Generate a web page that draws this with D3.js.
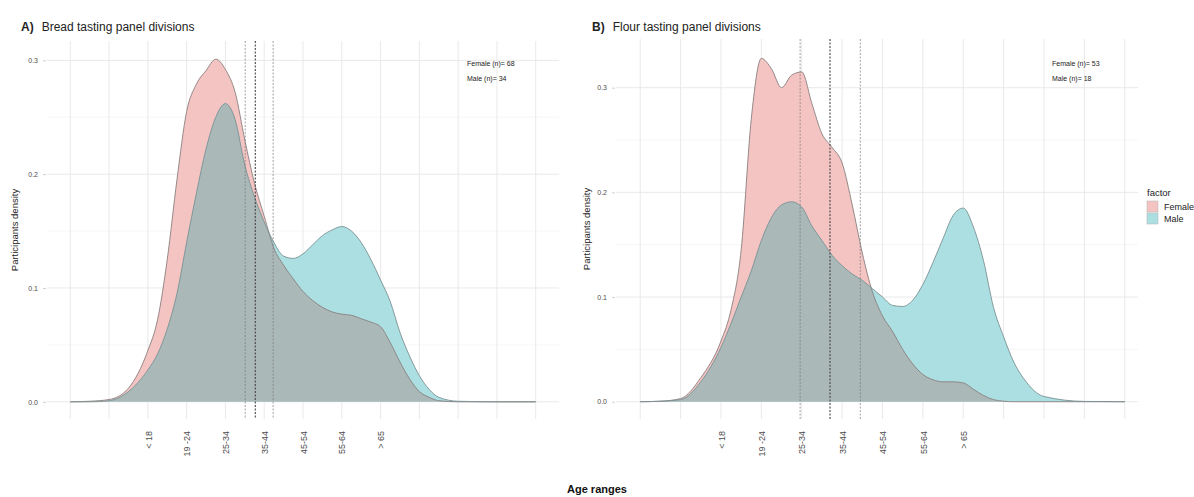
<!DOCTYPE html>
<html>
<head>
<meta charset="utf-8">
<script src="https://cdn.jsdelivr.net/npm/d3@7"></script>
<style>
  body { margin: 0; background: #fff; }
  text { font-family: "Liberation Sans", Arial, sans-serif; }
</style>
</head>
<body>
<div id="chart"></div>
<script>
// Variables
var svgW = 1194;
var svgH = 497;

// age axis (coded positions) and labels
var ageLabels = ["< 18", "19 -24", "25-34", "35-44", "45-54", "55-64", "> 65"];
var labelPos = [2, 3, 4, 5, 6, 7, 8];
var gridPos = [0, 1, 2, 3, 4, 5, 6, 7, 8, 9, 10, 11, 12];
var densityTicks = [0, 0.1, 0.2, 0.3];
var densityMinor = [0.05, 0.15, 0.25];

var ageGrid = [0, 0.5, 1, 1.5, 2, 2.25, 2.5, 2.75, 3, 3.25, 3.5, 3.75, 4, 4.25, 4.5, 4.75,
    5, 5.25, 5.5, 5.75, 6, 6.25, 6.5, 6.75, 7, 7.25, 7.5, 7.75, 8, 8.25, 8.5, 8.75,
    9, 9.25, 9.5, 10, 11, 12];

// bread panel densities
var breadFemale = [0, 0.0005, 0.002, 0.012, 0.045, 0.072, 0.125, 0.195, 0.255, 0.279, 0.291, 0.301, 0.292, 0.272, 0.230, 0.192,
    0.163, 0.135, 0.12, 0.108, 0.097, 0.089, 0.083, 0.079, 0.077, 0.076, 0.073, 0.070, 0.066, 0.052, 0.035, 0.020,
    0.009, 0.004, 0.001, 0, 0, 0];
var breadMale = [0, 0, 0.001, 0.009, 0.028, 0.042, 0.064, 0.095, 0.14, 0.183, 0.222, 0.25, 0.262, 0.248, 0.208, 0.18,
    0.158, 0.14, 0.128, 0.126, 0.13, 0.138, 0.146, 0.151, 0.154, 0.15, 0.14, 0.125, 0.107, 0.088, 0.061, 0.04,
    0.023, 0.011, 0.004, 0.0005, 0, 0];

// flour panel densities
var flourFemale = [0, 0.0005, 0.003, 0.023, 0.058, 0.088, 0.145, 0.27, 0.328, 0.318, 0.30, 0.312, 0.315, 0.285, 0.256, 0.243,
    0.228, 0.188, 0.142, 0.105, 0.082, 0.067, 0.05, 0.036, 0.026, 0.021, 0.019, 0.019, 0.018, 0.012, 0.006, 0.002,
    0.0005, 0, 0, 0, 0, 0];
var flourMale = [0, 0.0005, 0.002, 0.019, 0.052, 0.075, 0.1, 0.125, 0.154, 0.176, 0.188, 0.191, 0.186, 0.168, 0.154, 0.14,
    0.13, 0.122, 0.116, 0.108, 0.1, 0.092, 0.091, 0.097, 0.112, 0.133, 0.156, 0.178, 0.185, 0.167, 0.135, 0.09,
    0.062, 0.038, 0.022, 0.005, 0.0003, 0];

// dashed reference lines (mean positions)
var breadMeans = [4.51, 4.77, 5.23];
var flourMeans = [3.96, 4.70, 5.45];

// participants per group
var sexes = ["Female", "Male"];
var breadCounts = [68, 34];
var flourCounts = [53, 18];

var fillFemale = "#f4c4c3";
var fillMale = "#abdfe1";
var fillBoth = "#abb8b8";

var svg = d3.select('#chart').append('svg')
    .attr("width", svgW)
    .attr("height", svgH)
    .attr("style", "background-color: white")

// draw one panel
function drawPanel(p) {
    var x = d3.scaleLinear().domain([-0.6, 12.6]).range([p.left, p.right]);
    var y = d3.scaleLinear().domain(p.yDomain).range([p.bottom, p.top]);
    var g = svg.append('g');

    // grid
    g.selectAll('.hminor').data(densityMinor).enter().append('line')
        .attr('x1', p.left).attr('x2', p.gridRight)
        .attr('y1', function (d) { return y(d); }).attr('y2', function (d) { return y(d); })
        .attr('stroke', '#f0f0f0').attr('stroke-width', 0.6);
    g.selectAll('.hmajor').data(densityTicks).enter().append('line')
        .attr('x1', p.left).attr('x2', p.gridRight)
        .attr('y1', function (d) { return y(d); }).attr('y2', function (d) { return y(d); })
        .attr('stroke', '#e6e6e6').attr('stroke-width', 0.9);
    g.selectAll('.vgrid').data(gridPos).enter().append('line')
        .attr('x1', function (d) { return x(d); }).attr('x2', function (d) { return x(d); })
        .attr('y1', p.top).attr('y2', p.bottom)
        .attr('stroke', '#e6e6e6').attr('stroke-width', 0.9);

    var pts = function (vals) { return ageGrid.map(function (a, i) { return [a, vals[i]]; }); };
    var area = d3.area()
        .x(function (d) { return x(d[0]); })
        .y0(y(0))
        .y1(function (d) { return y(d[1]); })
        .curve(d3.curveMonotoneX);
    var line = d3.line()
        .x(function (d) { return x(d[0]); })
        .y(function (d) { return y(d[1]); })
        .curve(d3.curveMonotoneX);

    var fem = pts(p.female);
    var mal = pts(p.male);

    // overlap: male area clipped to the female area
    var clipId = 'clip' + p.id;
    svg.append('clipPath').attr('id', clipId)
        .append('path').attr('d', area(fem));

    g.append('path').attr('d', area(fem)).attr('fill', fillFemale);
    g.append('path').attr('d', area(mal)).attr('fill', fillMale);
    g.append('path').attr('d', area(mal)).attr('fill', fillBoth).attr('clip-path', 'url(#' + clipId + ')');
    g.append('path').attr('d', line(fem)).attr('fill', 'none').attr('stroke', '#8a7f7f').attr('stroke-width', 0.9);
    g.append('path').attr('d', line(mal)).attr('fill', 'none').attr('stroke', '#7a9193').attr('stroke-width', 0.9);

    // dashed lines
    g.selectAll('.mean').data(p.means).enter().append('line')
        .attr('x1', function (d) { return x(d); }).attr('x2', function (d) { return x(d); })
        .attr('y1', p.top).attr('y2', p.bottom)
        .attr('stroke', function (d, i) { return i == 1 ? '#444' : '#777'; })
        .attr('stroke-width', function (d, i) { return i == 1 ? 1.1 : 0.7; })
        .attr('stroke-dasharray', '2,1.5');

    // y axis
    var yAxis = g.append('g')
        .attr('transform', 'translate(' + (p.left - 1) + ',0)')
        .call(d3.axisLeft(y).tickValues(densityTicks).tickFormat(d3.format('.1f')).tickSize(3).tickPadding(5).tickSizeOuter(0));
    yAxis.select('.domain').remove();
    yAxis.selectAll('line').attr('stroke', '#d0d0d0');
    yAxis.selectAll('text').attr('fill', '#4d4d4d').style('font-size', '7px');

    // x axis
    var xAxis = g.append('g')
        .attr('transform', 'translate(0,' + p.bottom + ')')
        .call(d3.axisBottom(x).tickValues(labelPos).tickFormat(function (d, i) { return ageLabels[i]; }).tickSize(0).tickSizeOuter(0));
    xAxis.select('.domain').remove();
    xAxis.selectAll('text')
        .attr('transform', 'rotate(-90)')
        .attr('x', -12).attr('y', 0).attr('dy', '0.35em')
        .attr('text-anchor', 'end')
        .attr('fill', '#4d4d4d')
        .style('font-size', '9px');

    // y title
    g.append('text')
        .attr('transform', 'translate(' + p.yTitleX + ',' + ((p.top + p.bottom) / 2) + ') rotate(-90)')
        .attr('text-anchor', 'middle')
        .attr('fill', '#222')
        .style('font-size', '9.5px')
        .text('Participants density');

    // panel title
    var t = g.append('text').attr('x', p.titleX).attr('y', 31).attr('fill', '#222').style('font-size', '12px');
    t.append('tspan').style('font-weight', 'bold').text(p.letter);
    t.append('tspan').attr('dx', 8).text(p.title);

    // counts
    g.selectAll('.count').data(sexes).enter().append('text')
        .attr('x', p.noteX)
        .attr('y', function (d, i) { return 66 + i * 15; })
        .attr('fill', '#222')
        .style('font-size', '7px')
        .text(function (d, i) { return d + ' (n)= ' + p.counts[i]; });
}

drawPanel({
    id: 'A', left: 47, right: 559, gridRight: 559, top: 41, bottom: 419,
    yDomain: [-0.0151, 0.317], female: breadFemale, male: breadMale, means: breadMeans,
    letter: 'A)', title: 'Bread tasting panel divisions', titleX: 21, yTitleX: 18,
    noteX: 467, counts: breadCounts
})

drawPanel({
    id: 'B', left: 616, right: 1149, gridRight: 1138, top: 39, bottom: 419,
    yDomain: [-0.0165, 0.3465], female: flourFemale, male: flourMale, means: flourMeans,
    letter: 'B)', title: 'Flour tasting panel divisions', titleX: 592, yTitleX: 590,
    noteX: 1052, counts: flourCounts
})

// x title
svg.append('text')
    .attr('x', 597).attr('y', 493)
    .attr('text-anchor', 'middle')
    .attr('fill', '#111')
    .style('font-size', '11px')
    .style('font-weight', 'bold')
    .text('Age ranges')

// legend
var legend = svg.append('g').attr('transform', 'translate(1147,0)')
legend.append('text').attr('x', 0).attr('y', 196).attr('fill', '#222').style('font-size', '9.5px').text('factor')
legend.selectAll('rect').data(sexes).enter().append('rect')
    .attr('x', 0).attr('y', function (d, i) { return 201 + i * 12; })
    .attr('width', 11).attr('height', 11)
    .attr('fill', function (d, i) { return i == 0 ? fillFemale : fillMale; })
    .attr('stroke', '#bbb').attr('stroke-width', 0.6)
legend.selectAll('.lab').data(sexes).enter().append('text')
    .attr('x', 17).attr('y', function (d, i) { return 209.5 + i * 12; })
    .attr('fill', '#222')
    .style('font-size', '9px')
    .text(function (d) { return d; })
</script>
</body>
</html>
